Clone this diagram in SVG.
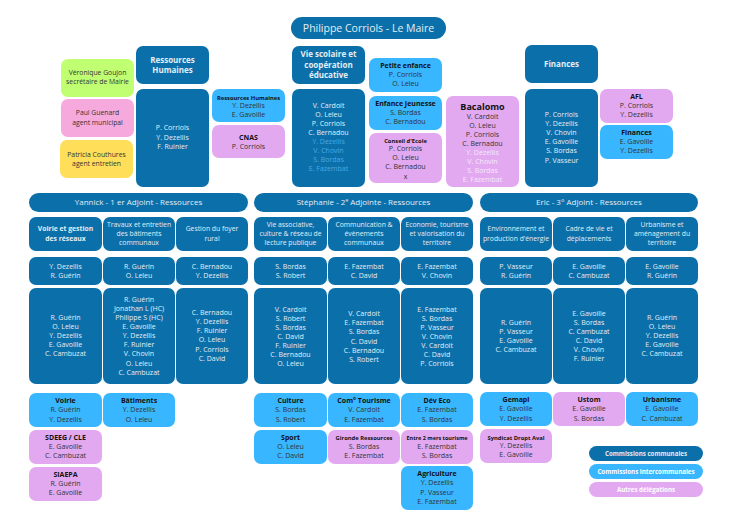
<svg xmlns="http://www.w3.org/2000/svg" width="733" height="518" viewBox="0 0 733 518">
<style>
text{font-family:"Open Sans","Noto Sans","Liberation Sans",sans-serif;text-anchor:middle;font-size:7px}
.d{fill:#0b70aa}.l{fill:#38b6ff}.p{fill:#e2a9f1}
.w{fill:#e4edf5}.k{fill:#111}.g{fill:#333}.lb{fill:#4aa9e3}.pw{fill:#f7e8fb}
.b{font-weight:bold}
.h8{font-size:8px}.s{font-size:5.8px}.r{font-size:6.8px}
</style>
<rect width="733" height="518" fill="#fff"/>

<g id="maire"><rect class="d" x="291" y="17" width="155" height="22" rx="11"/><text class="w" x="368.5" y="31.8" style="font-size:10.5px">Philippe Corriols - Le Maire</text></g>

<g id="veronique"><rect x="61" y="59" width="73" height="38" rx="7" fill="#c1ff72"/><text class="g r" x="97.5" y="74.5">Véronique Goujon</text><text class="g r" x="97.5" y="83.7">secrétaire de Mairie</text></g>
<g id="paul"><rect x="61" y="99" width="73" height="38" rx="7" fill="#f6a9dc"/><text class="g r" x="97.5" y="115.2">Paul Guenard</text><text class="g r" x="97.5" y="124.5">agent municipal</text></g>
<g id="patricia"><rect x="60" y="140" width="73" height="38" rx="7" fill="#ffde59"/><text class="g r" x="96.5" y="156.5">Patricia Couthures</text><text class="g r" x="96.5" y="165.8">agent entretien</text></g>

<g id="rh-head"><rect class="d" x="136" y="46" width="73" height="38" rx="7"/><text class="w b h8" x="172.5" y="62.9">Ressources</text><text class="w b h8" x="172.5" y="73.2">Humaines</text></g>
<g id="rh-body"><rect class="d" x="136" y="89" width="73" height="98" rx="7"/><text class="w" x="172.5" y="130.2">P. Corriols</text><text class="w" x="172.5" y="139.5">Y. Dezellis</text><text class="w" x="172.5" y="148.8">F. Ruinier</text></g>
<g id="rh-sub"><rect class="l" x="212" y="89" width="73" height="33" rx="7"/><text class="k b s" x="248.5" y="99.5">Ressources Humaines</text><text class="g" x="248.5" y="107.8">Y. Dezellis</text><text class="g" x="248.5" y="116.8">E. Gavoille</text></g>
<g id="cnas"><rect class="p" x="212" y="125" width="73" height="33" rx="7"/><text class="k b" x="248.5" y="139.5">CNAS</text><text class="g" x="248.5" y="148.5">P. Corriols</text></g>

<g id="vs-head"><rect class="d" x="292" y="46" width="73" height="38" rx="7"/><text class="w b h8" x="328.5" y="57.2">Vie scolaire et</text><text class="w b h8" x="328.5" y="67.6">coopération</text><text class="w b h8" x="328.5" y="78.2">éducative</text></g>
<g id="vs-body"><rect class="d" x="292" y="89" width="73" height="98" rx="7"/>
<text class="w" x="328.5" y="107.5">V. Cardoit</text><text class="w" x="328.5" y="116.6">O. Leleu</text><text class="w" x="328.5" y="125.7">P. Corriols</text><text class="w" x="328.5" y="134.8">C. Bernadou</text>
<text class="lb" x="328.5" y="144">Y. Dezellis</text><text class="lb" x="328.5" y="153.1">V. Chovin</text><text class="lb" x="328.5" y="162.2">S. Bordas</text><text class="lb" x="328.5" y="171.3">E. Fazembat</text></g>
<g id="petite-enfance"><rect class="l" x="369" y="58" width="73" height="34" rx="7"/><text class="k b" x="405.5" y="67.8">Petite enfance</text><text class="g" x="405.5" y="76.8">P. Corriols</text><text class="g" x="405.5" y="86.3">O. Leleu</text></g>
<g id="enfance-jeunesse"><rect class="l" x="369" y="96" width="73" height="34" rx="7"/><text class="k b" x="405.5" y="105.8">Enfance Jeunesse</text><text class="g" x="405.5" y="114.8">S. Bordas</text><text class="g" x="405.5" y="124.2">C. Bernadou</text></g>
<g id="conseil-ecole"><rect class="p" x="369" y="133" width="73" height="50" rx="7"/><text class="k b s" x="405.5" y="142.5">Conseil d'Ecole</text><text class="g" x="405.5" y="150.8">P. Corriols</text><text class="g" x="405.5" y="159.8">O. Leleu</text><text class="g" x="405.5" y="169.2">C. Bernadou</text><text class="g" x="405.5" y="178.5">x</text></g>
<g id="bacalomo"><rect class="p" x="446" y="96" width="73" height="91" rx="7"/><text class="k b" x="482.5" y="109.6" style="font-size:9px">Bacalomo</text>
<text class="g" x="482.5" y="118.9">V. Cardoit</text><text class="g" x="482.5" y="127.9">O. Leleu</text><text class="g" x="482.5" y="136.9">P. Corriols</text><text class="g" x="482.5" y="145.9">C. Bernadou</text>
<text class="pw" x="482.5" y="154.9">Y. Dezellis</text><text class="pw" x="482.5" y="163.9">V. Chovin</text><text class="pw" x="482.5" y="172.9">S. Bordas</text><text class="pw" x="482.5" y="181.9">E. Fazembat</text></g>

<g id="fin-head"><rect class="d" x="525" y="45" width="73" height="38" rx="7"/><text class="w b h8" x="561.5" y="66.6">Finances</text></g>
<g id="fin-body"><rect class="d" x="525" y="89" width="73" height="98" rx="7"/><text class="w" x="561.5" y="116.8">P. Corriols</text><text class="w" x="561.5" y="125.9">Y. Dezellis</text><text class="w" x="561.5" y="135.1">V. Chovin</text><text class="w" x="561.5" y="144.2">E. Gavoille</text><text class="w" x="561.5" y="153.4">S. Bordas</text><text class="w" x="561.5" y="162.5">P. Vasseur</text></g>
<g id="afl"><rect class="p" x="600" y="89" width="73" height="34" rx="7"/><text class="k b" x="636.5" y="98.5">AFL</text><text class="g" x="636.5" y="107.5">P. Corriols</text><text class="g" x="636.5" y="116.8">Y. Dezellis</text></g>
<g id="fin-sub"><rect class="l" x="600" y="125" width="73" height="34" rx="7"/><text class="k b" x="636.5" y="134.8">Finances</text><text class="g" x="636.5" y="143.8">E. Gavoille</text><text class="g" x="636.5" y="153.2">Y. Dezellis</text></g>

<g id="yannick"><rect class="d" x="29" y="193" width="219" height="19" rx="9.5"/><text class="w h8" x="138.5" y="205.3">Yannick - 1 er Adjoint - Ressources</text></g>
<g id="stephanie"><rect class="d" x="254" y="193" width="219" height="19" rx="9.5"/><text class="w h8" x="363.5" y="205.3">Stéphanie - 2<tspan font-size="5" dy="-3">e</tspan><tspan dy="3"> Adjointe - Ressources</tspan></text></g>
<g id="eric"><rect class="d" x="480" y="193" width="218" height="19" rx="9.5"/><text class="w h8" x="589" y="205.3">Eric - 3° Adjoint - Ressources</text></g>

<!-- Yannick columns -->
<g id="y1-title"><rect class="d" x="29" y="217" width="73" height="34" rx="7"/><text class="w b r" x="65.5" y="231.3">Voirie et gestion</text><text class="w b r" x="65.5" y="240.5">des réseaux</text></g>
<g id="y2-title"><rect class="d" x="103" y="217" width="72" height="34" rx="7"/><text class="w r" x="139" y="226.6">Travaux et entretien</text><text class="w r" x="139" y="236">des bâtiments</text><text class="w r" x="139" y="245.3">communaux</text></g>
<g id="y3-title"><rect class="d" x="176" y="217" width="72" height="34" rx="7"/><text class="w r" x="212" y="231.3">Gestion du foyer</text><text class="w r" x="212" y="240.5">rural</text></g>
<g id="y1-resp"><rect class="d" x="29" y="257" width="73" height="28" rx="7"/><text class="w" x="65.5" y="268.5">Y. Dezellis</text><text class="w" x="65.5" y="277.5">R. Guérin</text></g>
<g id="y2-resp"><rect class="d" x="103" y="257" width="72" height="28" rx="7"/><text class="w" x="139" y="268.5">R. Guérin</text><text class="w" x="139" y="277.5">O. Leleu</text></g>
<g id="y3-resp"><rect class="d" x="176" y="257" width="72" height="28" rx="7"/><text class="w" x="212" y="268.5">C. Bernadou</text><text class="w" x="212" y="277.5">Y. Dezellis</text></g>
<g id="y1-members"><rect class="d" x="29" y="288" width="73" height="96" rx="7"/><text class="w" x="65.5" y="319.5">R. Guérin</text><text class="w" x="65.5" y="328.6">O. Leleu</text><text class="w" x="65.5" y="337.7">Y. Dezellis</text><text class="w" x="65.5" y="346.8">E. Gavoille</text><text class="w" x="65.5" y="355.9">C. Cambuzat</text></g>
<g id="y2-members"><rect class="d" x="103" y="288" width="72" height="96" rx="7"/><text class="w" x="139" y="301.8">R. Guérin</text><text class="w" x="139" y="310.9">Jonathan L (HC)</text><text class="w" x="139" y="320">Philippe S (HC)</text><text class="w" x="139" y="329.1">E. Gavoille</text><text class="w" x="139" y="338.2">Y. Dezellis</text><text class="w" x="139" y="347.3">F. Ruinier</text><text class="w" x="139" y="356.4">V. Chovin</text><text class="w" x="139" y="365.5">O. Leleu</text><text class="w" x="139" y="374.6">C. Cambuzat</text></g>
<g id="y3-members"><rect class="d" x="176" y="288" width="72" height="96" rx="7"/><text class="w" x="212" y="314.8">C. Bernadou</text><text class="w" x="212" y="324">Y. Dezellis</text><text class="w" x="212" y="333.2">F. Ruinier</text><text class="w" x="212" y="342.4">O. Leleu</text><text class="w" x="212" y="351.6">P. Corriols</text><text class="w" x="212" y="360.8">C. David</text></g>
<g id="voirie"><rect class="l" x="29" y="393" width="73" height="34" rx="7"/><text class="k b" x="65.5" y="403.2">Voirie</text><text class="g" x="65.5" y="412.2">R. Guérin</text><text class="g" x="65.5" y="421.5">Y. Dezellis</text></g>
<g id="batiments"><rect class="l" x="103" y="393" width="72" height="34" rx="7"/><text class="k b" x="139" y="403.2">Bâtiments</text><text class="g" x="139" y="412.2">Y. Dezellis</text><text class="g" x="139" y="421.5">O. Leleu</text></g>
<g id="sdeeg"><rect class="p" x="29" y="430" width="73" height="34" rx="7"/><text class="k b" x="65.5" y="439.8">SDEEG / CLE</text><text class="g" x="65.5" y="449.2">E. Gavoille</text><text class="g" x="65.5" y="458.2">C. Cambuzat</text></g>
<g id="siaepa"><rect class="p" x="29" y="467" width="73" height="34" rx="7"/><text class="k b" x="65.5" y="476.5">SIAEPA</text><text class="g" x="65.5" y="485.8">R. Guérin</text><text class="g" x="65.5" y="494.8">E. Gavoille</text></g>

<!-- Stéphanie columns -->
<g id="s1-title"><rect class="d" x="254" y="217" width="73" height="34" rx="7"/><text class="w r" x="290.5" y="226.6">Vie associative,</text><text class="w r" x="290.5" y="236">culture &amp; réseau de</text><text class="w r" x="290.5" y="245.3">lecture publique</text></g>
<g id="s2-title"><rect class="d" x="328" y="217" width="72" height="34" rx="7"/><text class="w r" x="364" y="226.6">Communication &amp;</text><text class="w r" x="364" y="236">évènements</text><text class="w r" x="364" y="245.3">communaux</text></g>
<g id="s3-title"><rect class="d" x="401" y="217" width="72" height="34" rx="7"/><text class="w r" x="437" y="226.6">Economie, tourisme</text><text class="w r" x="437" y="236">et valorisation du</text><text class="w r" x="437" y="245.3">territoire</text></g>
<g id="s1-resp"><rect class="d" x="254" y="257" width="73" height="28" rx="7"/><text class="w" x="290.5" y="268.5">S. Bordas</text><text class="w" x="290.5" y="277.5">S. Robert</text></g>
<g id="s2-resp"><rect class="d" x="328" y="257" width="72" height="28" rx="7"/><text class="w" x="364" y="268.5">E. Fazembat</text><text class="w" x="364" y="277.5">C. David</text></g>
<g id="s3-resp"><rect class="d" x="401" y="257" width="72" height="28" rx="7"/><text class="w" x="437" y="268.5">E. Fazembat</text><text class="w" x="437" y="277.5">V. Chovin</text></g>
<g id="s1-members"><rect class="d" x="254" y="288" width="73" height="96" rx="7"/><text class="w" x="290.5" y="311.5">V. Cardoit</text><text class="w" x="290.5" y="320.6">S. Robert</text><text class="w" x="290.5" y="329.7">S. Bordas</text><text class="w" x="290.5" y="338.8">C. David</text><text class="w" x="290.5" y="347.9">F. Ruinier</text><text class="w" x="290.5" y="357">C. Bernadou</text><text class="w" x="290.5" y="366.1">O. Leleu</text></g>
<g id="s2-members"><rect class="d" x="328" y="288" width="72" height="96" rx="7"/><text class="w" x="364" y="316.2">V. Cardoit</text><text class="w" x="364" y="325.3">E. Fazembat</text><text class="w" x="364" y="334.4">S. Bordas</text><text class="w" x="364" y="343.5">C. David</text><text class="w" x="364" y="352.6">C. Bernadou</text><text class="w" x="364" y="361.7">S. Robert</text></g>
<g id="s3-members"><rect class="d" x="401" y="288" width="72" height="96" rx="7"/><text class="w" x="437" y="311.5">E. Fazembat</text><text class="w" x="437" y="320.6">S. Bordas</text><text class="w" x="437" y="329.7">P. Vasseur</text><text class="w" x="437" y="338.8">V. Chovin</text><text class="w" x="437" y="347.9">V. Cardoit</text><text class="w" x="437" y="357">C. David</text><text class="w" x="437" y="366.1">P. Corriols</text></g>
<g id="culture"><rect class="l" x="254" y="393" width="73" height="34" rx="7"/><text class="k b" x="290.5" y="403.2">Culture</text><text class="g" x="290.5" y="412.2">S. Bordas</text><text class="g" x="290.5" y="421.5">S. Robert</text></g>
<g id="com-tourisme"><rect class="l" x="328" y="393" width="72" height="34" rx="7"/><text class="k b" x="364" y="403.2">Com° Tourisme</text><text class="g" x="364" y="412.2">V. Cardoit</text><text class="g" x="364" y="421.5">E. Fazembat</text></g>
<g id="dev-eco"><rect class="l" x="401" y="393" width="72" height="34" rx="7"/><text class="k b" x="437" y="403.2">Dév Eco</text><text class="g" x="437" y="412.2">E. Fazembat</text><text class="g" x="437" y="421.5">S. Bordas</text></g>
<g id="sport"><rect class="l" x="254" y="430" width="73" height="34" rx="7"/><text class="k b" x="290.5" y="439.8">Sport</text><text class="g" x="290.5" y="449.2">O. Leleu</text><text class="g" x="290.5" y="458.2">C. David</text></g>
<g id="gironde"><rect class="p" x="328" y="430" width="72" height="34" rx="7"/><text class="k b s" x="364" y="440.3">Gironde Ressources</text><text class="g" x="364" y="449.2">S. Bordas</text><text class="g" x="364" y="458.2">E. Fazembat</text></g>
<g id="entre2mers"><rect class="p" x="401" y="430" width="72" height="34" rx="7"/><text class="k b" x="437" y="440.3" style="font-size:5.5px">Entre 2 mers tourisme</text><text class="g" x="437" y="449.2">E. Fazembat</text><text class="g" x="437" y="458.2">S. Bordas</text></g>
<g id="agriculture"><rect class="l" x="401" y="466" width="72" height="44" rx="7"/><text class="k b" x="437" y="476.2">Agriculture</text><text class="g" x="437" y="485.2">Y. Dezellis</text><text class="g" x="437" y="494.5">P. Vasseur</text><text class="g" x="437" y="503.8">E. Fazembat</text></g>

<!-- Eric columns -->
<g id="e1-title"><rect class="d" x="480" y="217" width="72" height="34" rx="7"/><text class="w r" x="516" y="231.3">Environnement et</text><text class="w r" x="516" y="240.5">production d'énergie</text></g>
<g id="e2-title"><rect class="d" x="553" y="217" width="72" height="34" rx="7"/><text class="w r" x="589" y="231.3">Cadre de vie et</text><text class="w r" x="589" y="240.5">déplacements</text></g>
<g id="e3-title"><rect class="d" x="626" y="217" width="72" height="34" rx="7"/><text class="w r" x="662" y="226.6">Urbanisme et</text><text class="w r" x="662" y="236">aménagement du</text><text class="w r" x="662" y="245.3">territoire</text></g>
<g id="e1-resp"><rect class="d" x="480" y="257" width="72" height="28" rx="7"/><text class="w" x="516" y="268.5">P. Vasseur</text><text class="w" x="516" y="277.5">R. Guérin</text></g>
<g id="e2-resp"><rect class="d" x="553" y="257" width="72" height="28" rx="7"/><text class="w" x="589" y="268.5">E. Gavoille</text><text class="w" x="589" y="277.5">C. Cambuzat</text></g>
<g id="e3-resp"><rect class="d" x="626" y="257" width="72" height="28" rx="7"/><text class="w" x="662" y="268.5">E. Gavoille</text><text class="w" x="662" y="277.5">R. Guérin</text></g>
<g id="e1-members"><rect class="d" x="480" y="288" width="72" height="96" rx="7"/><text class="w" x="516" y="324.5">R. Guérin</text><text class="w" x="516" y="333.7">P. Vasseur</text><text class="w" x="516" y="342.8">E. Gavoille</text><text class="w" x="516" y="351.9">C. Cambuzat</text></g>
<g id="e2-members"><rect class="d" x="553" y="288" width="72" height="96" rx="7"/><text class="w" x="589" y="315.8">E. Gavoille</text><text class="w" x="589" y="324.9">S. Bordas</text><text class="w" x="589" y="334">C. Cambuzat</text><text class="w" x="589" y="343.1">C. David</text><text class="w" x="589" y="352.2">V. Chovin</text><text class="w" x="589" y="361.3">F. Ruinier</text></g>
<g id="e3-members"><rect class="d" x="626" y="288" width="72" height="96" rx="7"/><text class="w" x="662" y="319.8">R. Guérin</text><text class="w" x="662" y="328.9">O. Leleu</text><text class="w" x="662" y="338">Y. Dezellis</text><text class="w" x="662" y="347.1">E. Gavoille</text><text class="w" x="662" y="356.2">C. Cambuzat</text></g>
<g id="gemapi"><rect class="l" x="480" y="392" width="72" height="34" rx="7"/><text class="k b" x="516" y="402.2">Gemapi</text><text class="g" x="516" y="411.2">E. Gavoille</text><text class="g" x="516" y="420.5">Y. Dezellis</text></g>
<g id="ustom"><rect class="p" x="553" y="392" width="72" height="34" rx="7"/><text class="k b" x="589" y="402.2">Ustom</text><text class="g" x="589" y="411.2">E. Gavoille</text><text class="g" x="589" y="420.5">S. Bordas</text></g>
<g id="urbanisme"><rect class="l" x="626" y="392" width="72" height="34" rx="7"/><text class="k b" x="662" y="402.2">Urbanisme</text><text class="g" x="662" y="411.2">E. Gavoille</text><text class="g" x="662" y="420.5">C. Cambuzat</text></g>
<g id="syndicat"><rect class="p" x="480" y="429" width="72" height="34" rx="7"/><text class="k b s" x="516" y="439.6">Syndicat Dropt Aval</text><text class="g" x="516" y="447.8">Y. Dezellis</text><text class="g" x="516" y="457.2">E. Gavoille</text></g>

<g id="legend">
<rect class="d" x="589" y="446" width="114" height="15" rx="7.5"/><text class="w b" x="646" y="455.8" style="font-size:6.2px">Commissions communales</text>
<rect class="l" x="589" y="464" width="114" height="15" rx="7.5"/><text class="b" fill="#fff" x="646" y="473.8" style="font-size:6.2px">Commissions intercommunales</text>
<rect class="p" x="589" y="482" width="114" height="15" rx="7.5"/><text class="b" fill="#fff" x="646" y="491.8" style="font-size:6.2px">Autres délégations</text>
</g>
</svg>
